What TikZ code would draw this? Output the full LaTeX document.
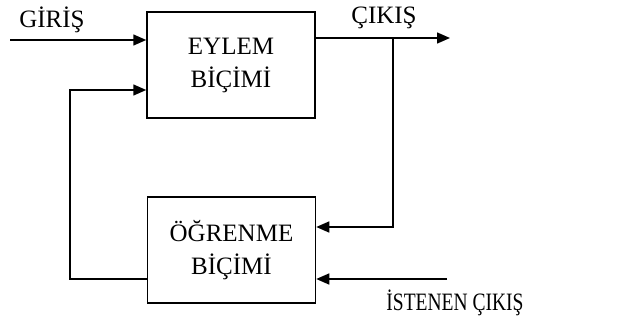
\documentclass[tikz,border=0pt]{standalone}
\usepackage{fontspec}
\setmainfont{Liberation Serif}
\usetikzlibrary{arrows.meta}
\begin{document}
\begin{tikzpicture}[x=1pt,y=-1pt,
  blk/.style={draw,line width=1.5pt,minimum width=168pt,minimum height=106pt,inner sep=0pt,align=center,font=\fontsize{25}{33}\selectfont},
  lbl/.style={inner sep=0pt,font=\fontsize{25}{30}\selectfont},
  conn/.style={line width=1.5pt},
  arr/.style={conn,-{Triangle[length=13pt,width=11pt]}}]
\useasboundingbox (0,0) rectangle (628,326);
\node[blk] (top) at (231,65) {EYLEM\\BİÇİMİ};
\node[blk] (bot) at (231.5,250) {ÖĞRENME\\BİÇİMİ};
\node[lbl] (gin) at (52,20) {GİRİŞ};
\node[lbl] (gout) at (384,18) {ÇIKIŞ};
\node[lbl] (want) at (455,303) {\scalebox{0.78}[1]{İSTENEN ÇIKIŞ}};
\coordinate (in) at (10,40);
\coordinate (out) at (450,38);
\coordinate (br) at (393,38);
\coordinate (brd) at (393,227);
\coordinate (fbl) at (70,279);
\coordinate (fbt) at (70,90);
\coordinate (des) at (447,279);
\draw[arr] (in) -- (top.west |- in);
\draw[arr] (top.east |- out) -- (out);
\draw[arr] (br) -- (brd) -- (bot.east |- brd);
\draw[arr] (des) -- (bot.east |- des);
\draw[arr] (bot.west |- fbl) -- (fbl) -- (fbt) -- (top.west |- fbt);
\end{tikzpicture}
\end{document}
